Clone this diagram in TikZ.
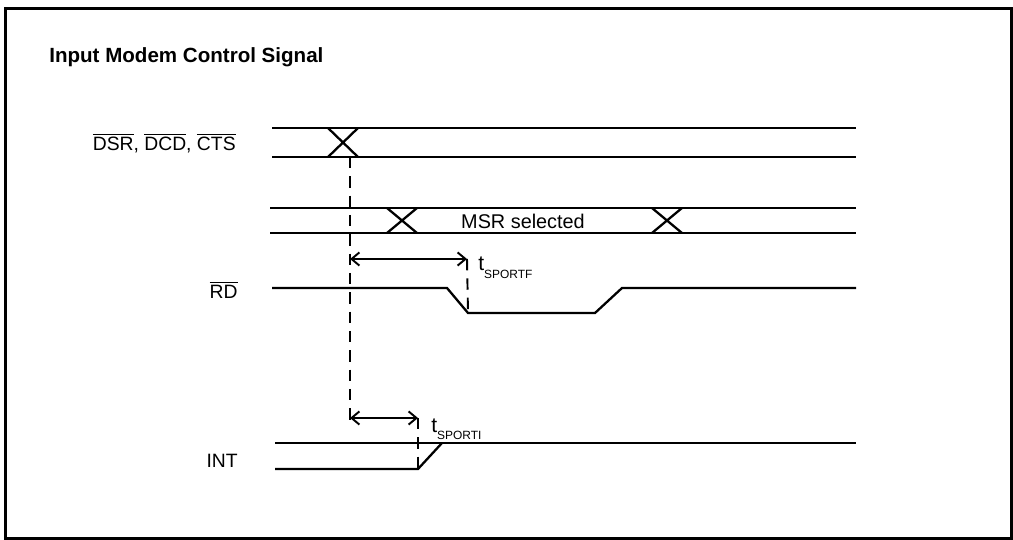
\documentclass[tikz,border=0pt]{standalone}
\usepackage{fontspec}
\setmainfont{Liberation Sans}
\usetikzlibrary{arrows.meta, positioning, calc}
\tikzstyle{signal} = [line width=1.3pt]
\tikzstyle{guide} = [line width=1.1pt, dash pattern=on 6.5pt off 4.5pt]
\tikzstyle{dimarrow} = [line width=1.1pt, {Straight Barb[length=4.5pt,width=7.5pt]}-{Straight Barb[length=4.5pt,width=7.5pt]}]
\tikzstyle{siglabel} = [anchor=east, inner sep=0pt, font=\fontsize{11}{13}\selectfont]
\tikzstyle{timelabel} = [anchor=base west, inner sep=0pt, font=\fontsize{12}{14}\selectfont]
\newcommand{\sigbar}[1]{$\overline{\hbox{#1}}$}
\newcommand{\tsub}[1]{t\raisebox{-4pt}{\fontsize{6.8}{7}\selectfont #1}}

\begin{document}
\begin{tikzpicture}[x=0.02cm, y=-0.02cm]
\useasboundingbox (0,0) rectangle (1013,540);
\draw [line width=1.4pt] (5.5,8.5) rectangle (1011.5,538.5);

\node (title) [anchor=west, inner sep=0pt, font=\bfseries\fontsize{11.7}{13}\selectfont] at (49,57) {Input Modem Control Signal};

% modem inputs
\node (dsr) [siglabel] at (236,143) {\sigbar{DSR}, \sigbar{DCD}, \sigbar{CTS}};
\draw [signal] (272,128) -- (856,128);
\draw [signal] (272,157) -- (856,157);
\draw [signal] (328,128) -- (358,157) (358,128) -- (328,157);

% MSR read
\draw [signal] (270,208) -- (856,208);
\draw [signal] (270,233) -- (856,233);
\draw [signal] (387,208) -- (417,233) (417,208) -- (387,233);
\draw [signal] (652,208) -- (682,233) (682,208) -- (652,233);
\node (msr) [inner sep=0pt, font=\fontsize{11.3}{13}\selectfont] at (523,221) {MSR selected};

% RD
\node (rd) [siglabel] at (238,290) {\sigbar{RD}};
\coordinate (rdfall) at (468,313);
\draw [signal] (272,288) -- (447,288) -- (rdfall) -- (595,313) -- (622,288) -- (856,288);

% INT
\node (int) [siglabel] at (238,461) {INT};
\coordinate (intlow) at (418,469);
\draw [signal] (275,443) -- (856,443);
\draw [signal] (275,469) -- (intlow) -- (442,443);

% timing
\coordinate (change) at (350,157);
\coordinate (changeend) at (350,426);
\coordinate (fstart) at (350,259);
\coordinate (fend) at (467,259);
\coordinate (istart) at (350,418);
\coordinate (iend) at (418,418);
\draw [guide] (change) -- (changeend);
\draw [guide] (fend) -- (rdfall);
\draw [guide] (iend) -- (intlow);
\draw [dimarrow] (fstart) -- (fend);
\draw [dimarrow] (istart) -- (iend);
\node (tsportf) [timelabel] at (478,271) {\tsub{SPORTF}};
\node (tsporti) [timelabel] at (431,432) {\tsub{SPORTI}};
\end{tikzpicture}
\end{document}
